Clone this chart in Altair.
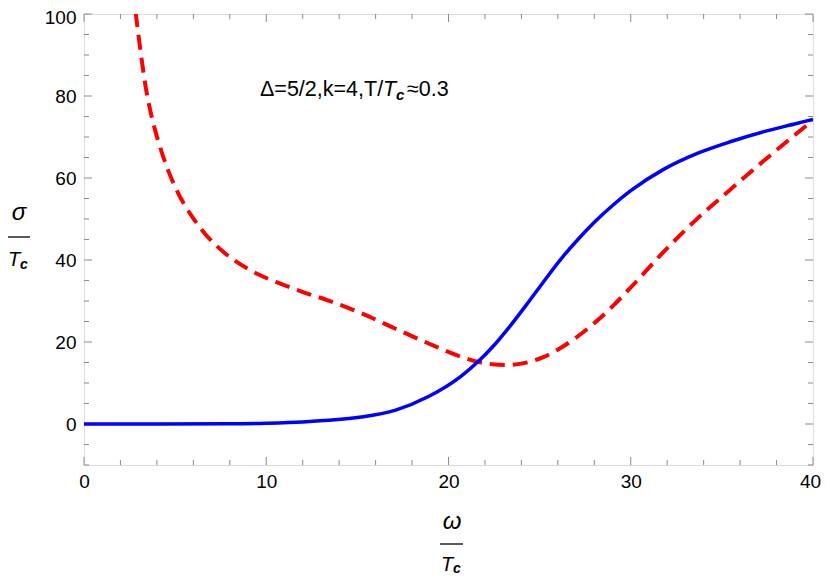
import altair as alt
import pandas as pd

# ---- data ----
blue_x = [0, 4, 8, 10, 12, 13.4, 15.2, 17.1, 18.9, 20.7, 21.6, 22.5, 23.4, 24.35,
          25.3, 26.2, 27.1, 28.0, 29.0, 30.0, 31.8, 33.65, 35.5, 37.3, 39.1, 40]
blue_y = [0, 0, 0.05, 0.2, 0.5, 0.9, 1.7, 3.4, 6.7, 11.7, 15.1, 19.2, 24.0, 29.5,
          35.2, 40.4, 45.0, 49.2, 53.3, 56.9, 62.1, 66.0, 68.9, 71.3, 73.3, 74.3]

red_x = [2.83, 3.1, 3.37, 3.65, 4.1, 4.65, 5.2, 5.93, 6.66, 7.75, 9.21, 10.67, 12.13,
         13.3, 15.23, 17.06, 18.88, 20.7, 21.6, 22.4, 23.26, 24.35, 25.2, 26.17, 27.1,
         28.0, 29.0, 30.0, 31.83, 33.65, 35.47, 37.3, 39.12, 40]
red_y = [100.5, 91.0, 82.6, 76.2, 68.6, 61.5, 56.0, 50.6, 46.3, 41.6, 37.3, 34.4, 32.0,
         30.3, 27.0, 23.3, 19.7, 16.4, 15.2, 14.6, 14.4, 15.05, 16.3, 18.6, 21.4,
         24.6, 28.7, 33.3, 42.1, 50.1, 57.2, 64.2, 70.9, 74.1]

x_major = [0, 10, 20, 30, 40]
x_minor = [2, 4, 6, 8, 12, 14, 16, 18, 22, 24, 26, 28, 32, 34, 36, 38]
y_major = [0, 20, 40, 60, 80, 100]
y_minor = [-10, -5, 5, 10, 15, 25, 30, 35, 45, 50, 55, 65, 70, 75, 85, 90, 95]

annotation = ["Δ=5/2,k=4,T/", "T", "c", "≈0.3"]

W, H = 729, 451
FONT = "Liberation Sans"
FRAME = "#6e6e6e"
TICK = "#8a8a8a"

xscale = alt.Scale(domain=[0, 40], nice=False, zero=False)
yscale = alt.Scale(domain=[-10, 100], nice=False, zero=False)
xaxis = alt.Axis(values=x_major, ticks=False, tickSize=0, domain=False, grid=False,
                 title=None, labelFontSize=19, labelFont=FONT, labelColor="#000000",
                 labelPadding=7, labelFlush=False,
                 labelOffset=alt.expr("datum.value == 40 ? -3 : 0"))
yaxis = alt.Axis(values=y_major, ticks=False, tickSize=0, domain=False, grid=False,
                 title=None, labelFontSize=19, labelFont=FONT, labelColor="#000000",
                 labelPadding=8,
                 labelOffset=alt.expr("datum.value == 100 ? 3 : 0"))

blue_df = pd.DataFrame({"x": blue_x, "y": blue_y})
red_df = pd.DataFrame({"x": red_x, "y": red_y})

blue = alt.Chart(blue_df).mark_line(color="#0000ff", strokeWidth=3.5,
                                    interpolate="monotone", clip=True).encode(
    x=alt.X("x:Q", scale=xscale, axis=xaxis),
    y=alt.Y("y:Q", scale=yscale, axis=yaxis),
)
red = alt.Chart(red_df).mark_line(color="#ff0000", strokeWidth=4, strokeDash=[15, 8],
                                  interpolate="monotone", clip=True).encode(
    x=alt.X("x:Q", scale=xscale, axis=xaxis),
    y=alt.Y("y:Q", scale=yscale, axis=yaxis),
)


def xticks(vals, length, top):
    df = pd.DataFrame({"v": vals})
    if top:
        yy, yy2 = alt.value(0), alt.value(length)
    else:
        yy, yy2 = alt.value(H), alt.value(H - length)
    return alt.Chart(df).mark_rule(color=TICK, strokeWidth=1).encode(
        x=alt.X("v:Q", scale=xscale, axis=xaxis), y=yy, y2=yy2)


def yticks(vals, length, right):
    df = pd.DataFrame({"v": vals})
    if right:
        xx, xx2 = alt.value(W), alt.value(W - length)
    else:
        xx, xx2 = alt.value(0), alt.value(length)
    return alt.Chart(df).mark_rule(color=TICK, strokeWidth=1).encode(
        y=alt.Y("v:Q", scale=yscale, axis=yaxis), x=xx, x2=xx2)


ticks = [
    xticks(x_major, 8, False), xticks(x_minor, 5, False),
    xticks(x_major, 8, True), xticks(x_minor, 5, True),
    yticks(y_major, 8, False), yticks(y_minor, 5, False),
    yticks(y_major, 8, True), yticks(y_minor, 5, True),
]

one = pd.DataFrame({"a": [0]})


def txt(s, x, y, size, style="normal", weight="normal", align="center"):
    return alt.Chart(one).mark_text(
        text=s, font=FONT, fontSize=size, fontStyle=style, fontWeight=weight,
        align=align, baseline="middle", color="#000000").encode(
        x=alt.value(x), y=alt.value(y))


def bar(x1, x2, y):
    return alt.Chart(one).mark_rule(color="#000000", strokeWidth=1.3).encode(
        x=alt.value(x1), x2=alt.value(x2), y=alt.value(y))


# annotation
ax, ay = 176, 76
ann = [
    txt(annotation[0], ax, ay, 21.5, align="left"),
    txt(annotation[1], ax + 123, ay, 21.5, style="italic", align="left"),
    txt(annotation[2], ax + 136, ay + 5, 15, style="italic", weight="bold", align="left"),
    txt(annotation[3], ax + 147, ay, 21.5, align="left"),
]

# x title: omega / T_c
xt = [
    txt("ω", 368, 508, 24, style="italic"),
    bar(356, 379, 530),
    txt("T", 363, 551, 20, style="italic"),
    txt("c", 373, 555, 14, style="italic", weight="bold"),
]
# y title: sigma / T_c
yt = [
    txt("σ", -65, 199, 24, style="italic"),
    bar(-76, -54, 223),
    txt("T", -70, 246, 20, style="italic"),
    txt("c", -60, 251, 14, style="italic", weight="bold"),
]

chart = alt.layer(*ticks, red, blue, *ann, *xt, *yt).properties(
    width=W, height=H,
    autosize=alt.AutoSizeParams(type="none"),
    padding={"left": 76, "top": 6, "right": 9, "bottom": 112},
).configure_view(stroke=FRAME, strokeWidth=1.2).configure(background="white")

chart.save("out.html", embed_options={"renderer": "svg", "actions": False})
